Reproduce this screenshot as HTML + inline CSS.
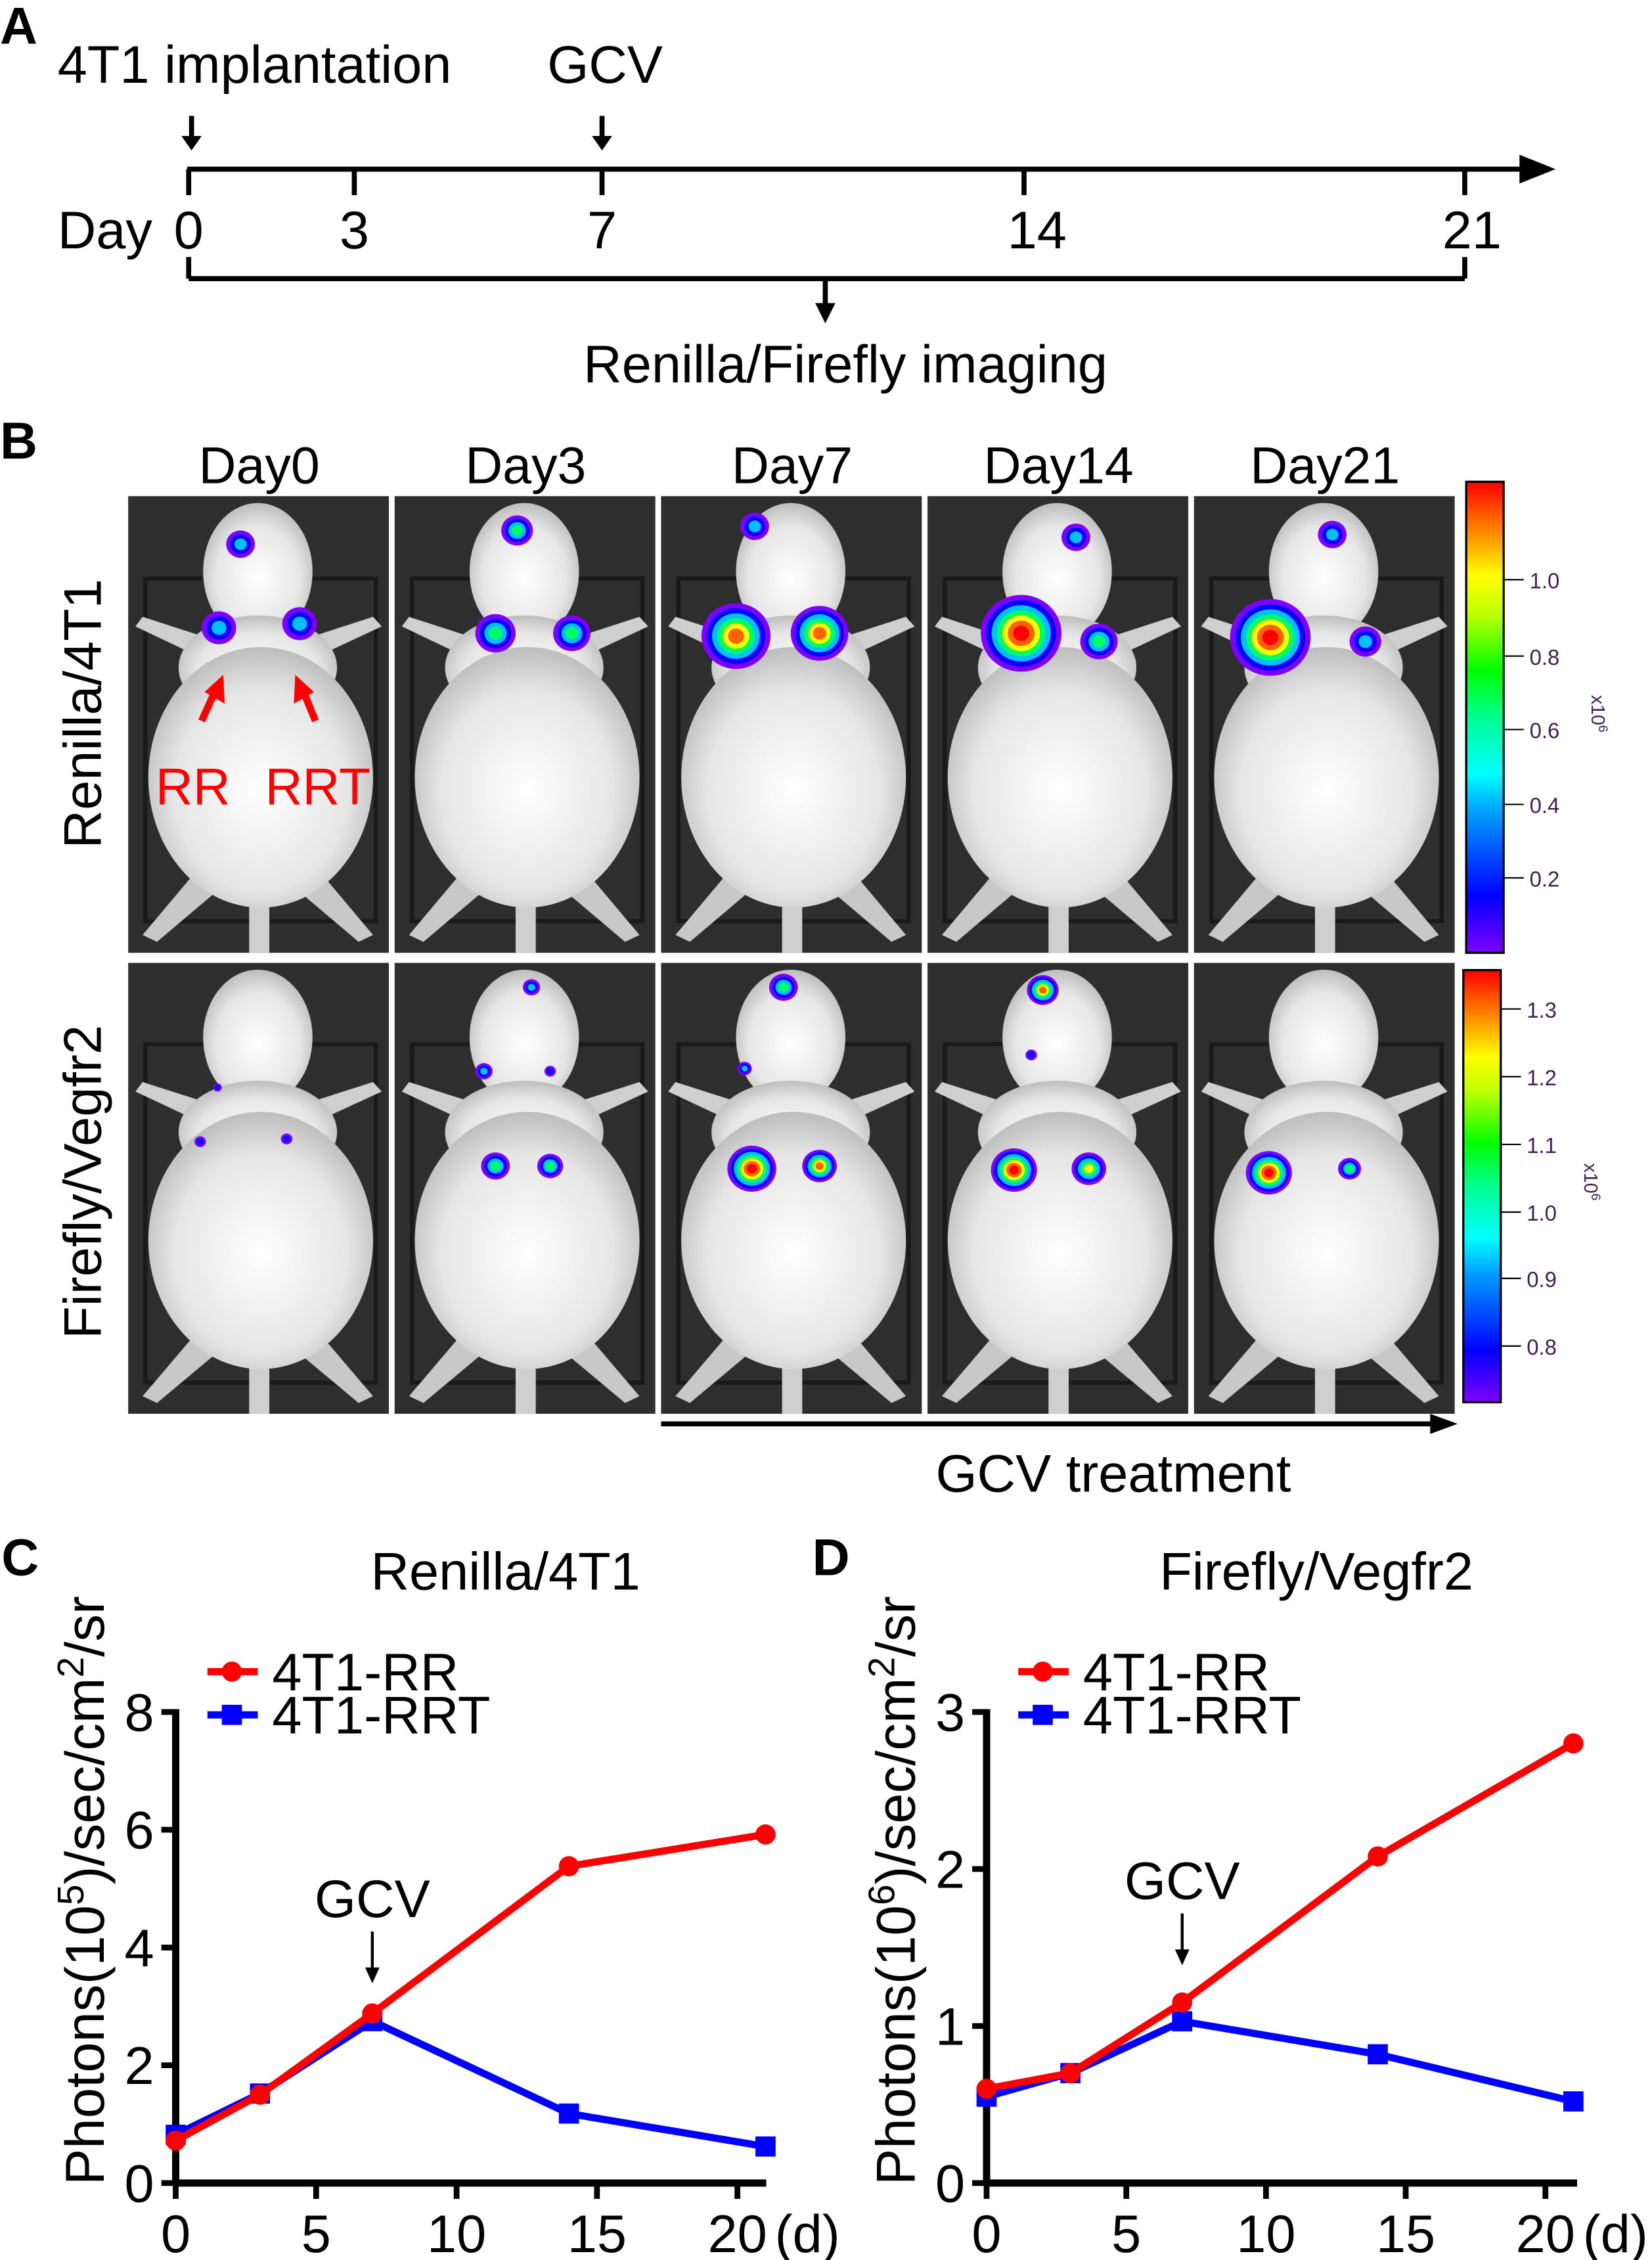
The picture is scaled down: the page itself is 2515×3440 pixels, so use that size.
<!DOCTYPE html>
<html><head><meta charset="utf-8"><style>
html,body{margin:0;padding:0;background:#fff}
svg{display:block}
text{font-family:"Liberation Sans",Arial,sans-serif}
</style></head><body>
<svg id="fig" width="2515" height="3440" viewBox="0 0 1147 1568" xmlns="http://www.w3.org/2000/svg">
<defs>
<linearGradient id="cb" x1="0" y1="1" x2="0" y2="0">
<stop offset="0" stop-color="#8000ff"/><stop offset="0.12" stop-color="#0000ff"/><stop offset="0.3" stop-color="#00a0ff"/><stop offset="0.38" stop-color="#00ffff"/><stop offset="0.5" stop-color="#00ff90"/><stop offset="0.6" stop-color="#00ff00"/><stop offset="0.72" stop-color="#c0ff00"/><stop offset="0.8" stop-color="#ffff00"/><stop offset="0.9" stop-color="#ff8000"/><stop offset="1" stop-color="#ff0000"/>
</linearGradient>
<radialGradient id="mouseg" cx="0.5" cy="0.55" r="0.55">
<stop offset="0" stop-color="#ffffff"/><stop offset="0.7" stop-color="#e6e6e6"/><stop offset="1" stop-color="#bdbdbd"/>
</radialGradient>
</defs>
<g id="panelA">
<text x="0" y="30" font-size="36" font-weight="bold">A</text>
<text x="40" y="57" font-size="37">4T1 implantation</text>
<text x="380" y="57" font-size="37">GCV</text>
<g stroke="#000" stroke-width="3.5" fill="none">
<line x1="133" y1="80" x2="133" y2="96"/><line x1="418" y1="80" x2="418" y2="96"/>
<line x1="130" y1="117" x2="1060" y2="117"/>
<line x1="131" y1="117" x2="131" y2="135"/><line x1="246" y1="117" x2="246" y2="135"/><line x1="418" y1="117" x2="418" y2="135"/><line x1="711" y1="117" x2="711" y2="135"/><line x1="1017" y1="117" x2="1017" y2="135"/>
<line x1="131" y1="193" x2="1017" y2="193"/><line x1="131" y1="178" x2="131" y2="193"/><line x1="1017" y1="178" x2="1017" y2="193"/>
<line x1="573" y1="193" x2="573" y2="212"/>
</g>
<polygon points="126,94 140,94 133,104" fill="#000"/><polygon points="411,94 425,94 418,104" fill="#000"/>
<polygon points="1055,107 1080,117 1055,127" fill="#000"/><polygon points="566,210 580,210 573,224" fill="#000"/>
<text x="40" y="172" font-size="37">Day</text>
<g font-size="37" text-anchor="middle">
<text x="131" y="172">0</text><text x="246" y="172">3</text><text x="418" y="172">7</text><text x="720" y="172">14</text><text x="1022" y="172">21</text>
</g>
<text x="587" y="265" font-size="37" text-anchor="middle">Renilla/Firefly imaging</text>
</g>
<g id="panelB">
<text x="0" y="318" font-size="36" font-weight="bold">B</text>
<text transform="translate(70,495) rotate(-90)" font-size="37" text-anchor="middle">Renilla/4T1</text>
<text transform="translate(70,820) rotate(-90)" font-size="37" text-anchor="middle">Firefly/Vegfr2</text>
<g id="mice"></g>
<rect x="1018" y="334" width="26" height="327" fill="url(#cb)" stroke="#000" stroke-width="1.5"/>
<rect x="1016" y="673" width="26" height="300" fill="url(#cb)" stroke="#000" stroke-width="1.5"/>
<g id="cbticks" font-size="15" fill="#402050"></g>
<text transform="translate(1105,495) rotate(90)" font-size="13" text-anchor="middle" fill="#402050">x10<tspan dy="-5" font-size="9">6</tspan></text>
<text transform="translate(1100,820) rotate(90)" font-size="13" text-anchor="middle" fill="#402050">x10<tspan dy="-5" font-size="9">6</tspan></text>
<line x1="459" y1="988" x2="995" y2="988" stroke="#000" stroke-width="3.5"/>
<polygon points="993,981 1012,988 993,995" fill="#000"/>
<text x="773" y="1035" font-size="37" text-anchor="middle">GCV treatment</text>
</g>
<g id="chartC"></g>
<g id="chartD"></g>
</svg>
<script>
const NS="http://www.w3.org/2000/svg";
function mk(parent,tag,attrs,txt){const e=document.createElementNS(NS,tag);for(const k in attrs)e.setAttribute(k,attrs[k]);if(txt!==undefined)e.textContent=txt;parent.appendChild(e);return e;}

// ---- mouse panels ----
const dayLabels=["Day0","Day3","Day7","Day14","Day21"];
const colX=[89,274,459,644,829];
const rows=[{y:344,h:317},{y:668,h:313}];
const blobs=[
 [[[78,35,10,2],[63,96,12,2],[119,93,12,2]],[[85,25,11,3],[70,100,14,3],[123,100,13,3]],[[65,22,10,2],[52,102,24,5],[110,100,20,5]],[[103,30,10,2],[65,100,28,6],[119,106,13,3]],[[96,28,10,2],[53,103,28,6],[119,106,11,2]]],
 [[[62,92,3,1],[50,132,4,1],[110,130,4,1]],[[95,18,6,2],[62,80,6,2],[108,80,4,1],[70,150,10,3],[108,150,9,3]],[[85,18,10,3],[58,78,5,2],[63,152,17,6],[110,150,12,5]],[[80,20,11,5],[72,68,4,1],[60,153,16,6],[112,152,12,4]],[[52,155,16,6],[108,152,8,3]]]
];
const levels=["#8000ff","#0000ff","#00c0ff","#00ff60","#ffff00","#ff6000","#ff0000"];
const mice=document.getElementById('mice');
rows.forEach((r,ri)=>{
  colX.forEach((x,ci)=>{
    const g=mk(mice,'g',{transform:`translate(${x},${r.y}) scale(1,${r.h/333})`});
    
    
    mk(g,'rect',{x:0,y:0,width:181,height:333,fill:'#2e2e2e'});
    mk(g,'rect',{x:12,y:60,width:160,height:250,fill:'none',stroke:'#1a1a1a','stroke-width':3});
    const m=mk(g,'g',{fill:'url(#mouseg)'});
    mk(m,'polygon',{points:'55,120 5,95 10,88 60,105',fill:'#cfcfcf'});
    mk(m,'polygon',{points:'125,120 176,95 170,88 120,105',fill:'#cfcfcf'});
    mk(m,'polygon',{points:'50,270 10,320 20,325 65,285',fill:'#c8c8c8'});
    mk(m,'polygon',{points:'130,270 170,320 160,325 115,285',fill:'#c8c8c8'});
    mk(m,'rect',{x:84,y:280,width:14,height:53,fill:'#cfcfcf'});
    mk(m,'ellipse',{cx:90,cy:55,rx:38,ry:50});
    mk(m,'ellipse',{cx:90,cy:125,rx:55,ry:38});
    mk(m,'ellipse',{cx:92,cy:205,rx:78,ry:95});
    blobs[ri][ci].forEach(b=>{
      const [lx,ly,rr,lv]=b;
      for(let k=0;k<=lv;k++){
        const rad=rr*(1-k/(lv+1.5));
        mk(g,'circle',{cx:lx,cy:ly,r:rad,fill:levels[k]});
      }
    });
  });
});
dayLabels.forEach((d,i)=>{
  const t=mk(mice,'text',{x:colX[i]+91,y:335,'font-size':36,'text-anchor':'middle'},d);
  
  
});
const ann=mk(mice,'g',{fill:'#ff0000'});
mk(ann,'text',{x:108,y:558,'font-size':36},'RR');
mk(ann,'text',{x:184,y:558,'font-size':36},'RRT');
mk(ann,'line',{x1:140,y1:500,x2:150,y2:478,stroke:'#f00','stroke-width':5});
mk(ann,'polygon',{points:'142,480 155,468 156,488'});
mk(ann,'line',{x1:219,y1:500,x2:210,y2:478,stroke:'#f00','stroke-width':5});
mk(ann,'polygon',{points:'218,480 205,468 204,488'});

const cbt=document.getElementById('cbticks');
const cb1=["1.0","0.8","0.6","0.4","0.2"], cb1y=[405,458,509,561,612];
cb1.forEach((l,i)=>{mk(cbt,'line',{x1:1044,y1:cb1y[i]-3,x2:1058,y2:cb1y[i]-3,stroke:'#000','stroke-width':1});mk(cbt,'text',{x:1062,y:cb1y[i]+3},l);});
const cb2=["1.3","1.2","1.1","1.0","0.9","0.8"], cb2y=[703,750,797,844,890,937];
cb2.forEach((l,i)=>{mk(cbt,'line',{x1:1042,y1:cb2y[i]-3,x2:1056,y2:cb2y[i]-3,stroke:'#000','stroke-width':1});mk(cbt,'text',{x:1060,y:cb2y[i]+3},l);});

// ---- line charts ----
const days=[0,3,7,14,21];
const renillaRR=[0.72,1.5,2.88,5.38,5.92];
const renillaRRT=[0.82,1.52,2.75,1.18,0.62];
const fireflyRR=[0.6,0.7,1.15,2.08,2.8];
const fireflyRRT=[0.55,0.7,1.03,0.82,0.52];
const xTicks=[0,5,10,15,20];
const yTicksC=[0,2,4,6,8];
const yTicksD=[0,1,2,3];

function chart(gid,cfg){
  const g=document.getElementById(gid);
  const X=v=>cfg.x0+(v/20)*cfg.xw;
  const Y=v=>1515-(v/cfg.ymax)*327;
  mk(g,'text',{x:cfg.x0-121,y:1093,'font-size':36,'font-weight':'bold'},cfg.letter);
  mk(g,'text',{x:cfg.x0+229,y:1103,'font-size':37,'text-anchor':'middle'},cfg.title);
  const yl=mk(g,'text',{transform:`translate(${cfg.x0-50},1312) rotate(-90)`,'font-size':38,'text-anchor':'middle'});
  
  
  yl.innerHTML=`Photons(10<tspan dy="-14" font-size="26">${cfg.exp}</tspan><tspan dy="14">)/sec/cm</tspan><tspan dy="-14" font-size="26">2</tspan><tspan dy="14">/sr</tspan>`;
  mk(g,'line',{x1:cfg.x0,y1:Y(cfg.ymax)-2,x2:cfg.x0,y2:1517,stroke:'#000','stroke-width':5});
  mk(g,'line',{x1:cfg.x0-2,y1:1515,x2:cfg.x0+410,y2:1515,stroke:'#000','stroke-width':5});
  xTicks.forEach(t=>{
    mk(g,'line',{x1:X(t),y1:1515,x2:X(t),y2:1526,stroke:'#000','stroke-width':4});
    mk(g,'text',{x:X(t),y:1563,'font-size':37,'text-anchor':'middle'},String(t));
  });
  mk(g,'text',{x:X(20)+26,y:1563,'font-size':37},'(d)');
  cfg.yticks.forEach(t=>{
    mk(g,'line',{x1:cfg.x0-10,y1:Y(t),x2:cfg.x0,y2:Y(t),stroke:'#000','stroke-width':4});
    mk(g,'text',{x:cfg.x0-15,y:Y(t)+13,'font-size':37,'text-anchor':'end'},String(t));
  });
  const ax=X(7), ay=Y(cfg.gcvY);
  mk(g,'text',{x:ax,y:ay-62,'font-size':37,'text-anchor':'middle'},'GCV');
  mk(g,'line',{x1:ax,y1:ay-52,x2:ax,y2:ay-25,stroke:'#000','stroke-width':2});
  mk(g,'polygon',{points:`${ax-5},${ay-27} ${ax+5},${ay-27} ${ax},${ay-16}`,fill:'#000'});
  const series=[{v:cfg.rrt,c:'#0000ff',sq:true,n:'series-4t1-rrt'},{v:cfg.rr,c:'#ff0000',sq:false,n:'series-4t1-rr'}];
  series.forEach(s=>{
    const sg=mk(g,'g',{});
    
    
    mk(sg,'polyline',{points:days.map((d,i)=>X(d)+','+Y(s.v[i])).join(' '),fill:'none',stroke:s.c,'stroke-width':5});
    days.forEach((d,i)=>{
      const p=s.sq?mk(sg,'rect',{x:X(d)-7,y:Y(s.v[i])-7,width:14,height:14,fill:s.c}):mk(sg,'circle',{cx:X(d),cy:Y(s.v[i]),r:7,fill:s.c});
      
      
    });
  });
  const lg=mk(g,'g',{});
  
  
  const lx=cfg.x0+22;
  mk(lg,'line',{x1:lx,y1:1160,x2:lx+35,y2:1160,stroke:'#f00','stroke-width':5});
  mk(lg,'circle',{cx:lx+17,cy:1160,r:7,fill:'#f00'});
  mk(lg,'text',{x:lx+45,y:1173,'font-size':37},'4T1-RR');
  mk(lg,'line',{x1:lx,y1:1190,x2:lx+35,y2:1190,stroke:'#00f','stroke-width':5});
  mk(lg,'rect',{x:lx+10,y:1183,width:14,height:14,fill:'#00f'});
  mk(lg,'text',{x:lx+45,y:1203,'font-size':37},'4T1-RRT');
}
chart('chartC',{x0:122,xw:390,ymax:8,yticks:yTicksC,rr:renillaRR,rrt:renillaRRT,letter:'C',title:'Renilla/4T1',exp:'5',gcvY:3.0});
chart('chartD',{x0:685,xw:388,ymax:3,yticks:yTicksD,rr:fireflyRR,rrt:fireflyRRT,letter:'D',title:'Firefly/Vegfr2',exp:'6',gcvY:1.24});
</script>
</body></html>
